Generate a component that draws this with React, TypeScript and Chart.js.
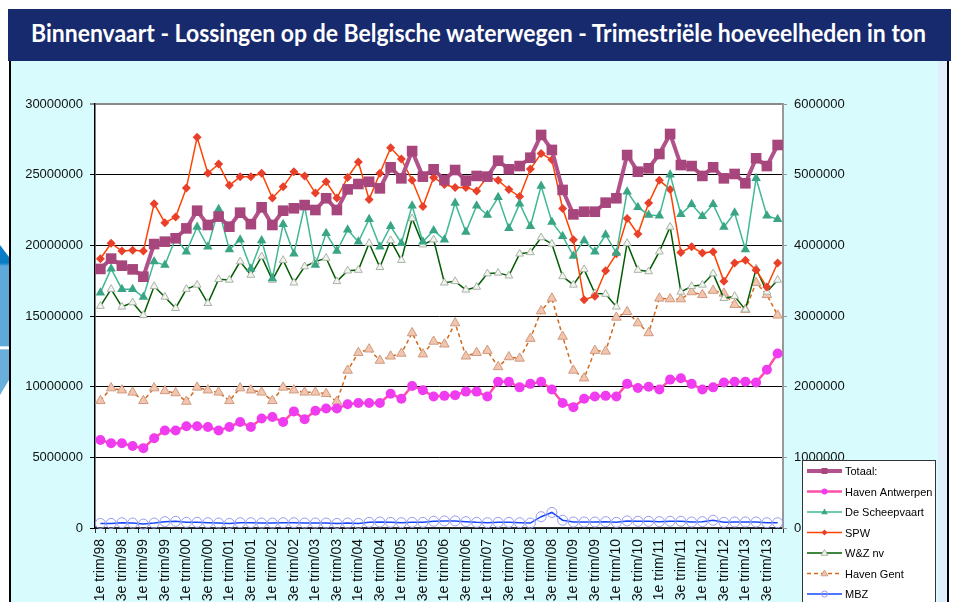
import React, { useEffect, useLayoutEffect, useRef } from "react";
import { Chart, registerables } from "chart.js";
Chart.register(...registerables);

const categories = [
  "1e trim/98", "2e trim/98", "3e trim/98", "4e trim/98",
  "1e trim/99", "2e trim/99", "3e trim/99", "4e trim/99",
  "1e trim/00", "2e trim/00", "3e trim/00", "4e trim/00",
  "1e trim/01", "2e trim/01", "3e trim/01", "4e trim/01",
  "1e trim/02", "2e trim/02", "3e trim/02", "4e trim/02",
  "1e trim/03", "2e trim/03", "3e trim/03", "4e trim/03",
  "1e trim/04", "2e trim/04", "3e trim/04", "4e trim/04",
  "1e trim/05", "2e trim/05", "3e trim/05", "4e trim/05",
  "1e trim/06", "2e trim/06", "3e trim/06", "4e trim/06",
  "1e trim/07", "2e trim/07", "3e trim/07", "4e trim/07",
  "1e trim/08", "2e trim/08", "3e trim/08", "4e trim/08",
  "1e trim/09", "2e trim/09", "3e trim/09", "4e trim/09",
  "1e trim/10", "2e trim/10", "3e trim/10", "4e trim/10",
  "1e trim/11", "2e trim/11", "3e trim/11", "4e trim/11",
  "1e trim/12", "2e trim/12", "3e trim/12", "4e trim/12",
  "1e trim/13", "2e trim/13", "3e trim/13", "4e trim/13",
];

// Left axis (ton)
const totaal = [
  18330000, 19060000, 18560000, 18300000, 17780000, 20090000, 20260000, 20500000,
  21200000, 22450000, 21440000, 22030000, 21320000, 22310000, 21500000, 22690000,
  21440000, 22450000, 22620000, 22850000, 22500000, 23330000, 22500000, 23960000,
  24340000, 24500000, 24030000, 25520000, 24740000, 26670000, 24860000, 25380000,
  24620000, 25330000, 24580000, 24910000, 24860000, 25990000, 25380000, 25610000,
  26200000, 27810000, 26750000, 23920000, 22190000, 22380000, 22380000, 23020000,
  23330000, 26390000, 25210000, 25450000, 26460000, 27880000, 25680000, 25610000,
  24910000, 25520000, 24740000, 25050000, 24390000, 26160000, 25610000, 27100000,
];

// Right axis (ton)
const havenAntwerpen = [
  1245000, 1200000, 1200000, 1160000, 1130000, 1270000, 1380000, 1380000,
  1440000, 1440000, 1430000, 1380000, 1430000, 1500000, 1430000, 1550000,
  1570000, 1500000, 1650000, 1540000, 1660000, 1690000, 1690000, 1750000,
  1770000, 1770000, 1770000, 1900000, 1830000, 2010000, 1950000, 1860000,
  1870000, 1880000, 1930000, 1930000, 1860000, 2070000, 2070000, 1990000,
  2040000, 2070000, 1960000, 1770000, 1710000, 1830000, 1860000, 1870000,
  1860000, 2040000, 1980000, 2000000, 1960000, 2100000, 2120000, 2040000,
  1960000, 1990000, 2060000, 2070000, 2070000, 2060000, 2240000, 2470000,
];

const deScheepvaart = [
  3330000, 3670000, 3380000, 3380000, 3270000, 3770000, 3720000, 4100000,
  3910000, 4260000, 3980000, 4510000, 3940000, 4080000, 3670000, 4070000,
  3530000, 4300000, 3880000, 4560000, 3720000, 4170000, 3920000, 4220000,
  4050000, 4370000, 3980000, 4270000, 4030000, 4560000, 4050000, 4210000,
  4080000, 4600000, 4190000, 4560000, 4430000, 4680000, 4240000, 4590000,
  4270000, 4840000, 4330000, 4130000, 3850000, 4070000, 3910000, 4150000,
  3890000, 4760000, 4540000, 4430000, 4420000, 5000000, 4440000, 4580000,
  4410000, 4580000, 4260000, 4460000, 3940000, 4950000, 4420000, 4370000,
];

const spw = [
  3810000, 4030000, 3920000, 3930000, 3920000, 4590000, 4320000, 4400000,
  4810000, 5530000, 5020000, 5150000, 4850000, 4970000, 4970000, 5020000,
  4670000, 4830000, 5040000, 4980000, 4740000, 4900000, 4670000, 4960000,
  5180000, 4650000, 5020000, 5380000, 5220000, 4920000, 4550000, 4960000,
  4860000, 4820000, 4820000, 4770000, 4970000, 4920000, 4790000, 4690000,
  5080000, 5300000, 5210000, 4520000, 4080000, 3230000, 3280000, 3640000,
  3880000, 4380000, 4160000, 4600000, 4920000, 4790000, 3900000, 3980000,
  3890000, 3910000, 3490000, 3750000, 3790000, 3650000, 3410000, 3750000,
];

const wzNv = [
  3140000, 3380000, 3130000, 3190000, 3010000, 3420000, 3270000, 3110000,
  3380000, 3440000, 3180000, 3520000, 3510000, 3770000, 3580000, 3840000,
  3510000, 3790000, 3470000, 3700000, 3770000, 3820000, 3490000, 3640000,
  3650000, 4030000, 3690000, 4070000, 3790000, 4380000, 4010000, 4080000,
  3470000, 3490000, 3370000, 3410000, 3600000, 3610000, 3570000, 3880000,
  3900000, 4110000, 4020000, 3560000, 3440000, 3660000, 3320000, 3310000,
  3130000, 4030000, 3650000, 3630000, 3910000, 4260000, 3340000, 3420000,
  3440000, 3600000, 3250000, 3280000, 3090000, 3670000, 3340000, 3510000,
];

const havenGent = [
  1800000, 1980000, 1950000, 1920000, 1800000, 1980000, 1940000, 1910000,
  1790000, 1990000, 1950000, 1920000, 1800000, 1980000, 1950000, 1920000,
  1800000, 1990000, 1950000, 1920000, 1920000, 1900000, 1790000, 2230000,
  2480000, 2530000, 2370000, 2430000, 2470000, 2760000, 2460000, 2640000,
  2600000, 2900000, 2430000, 2480000, 2510000, 2280000, 2420000, 2400000,
  2680000, 3070000, 3250000, 2710000, 2230000, 2120000, 2510000, 2500000,
  2980000, 3060000, 2900000, 2760000, 3250000, 3240000, 3240000, 3340000,
  3300000, 3360000, 3320000, 3160000, 3090000, 3470000, 3300000, 3010000,
];

const mbz = [
  65000, 65000, 75000, 70000, 55000, 70000, 90000, 95000,
  80000, 80000, 75000, 70000, 65000, 75000, 75000, 70000,
  70000, 75000, 75000, 70000, 70000, 70000, 65000, 70000,
  65000, 80000, 85000, 80000, 75000, 80000, 80000, 95000,
  100000, 100000, 90000, 80000, 75000, 80000, 80000, 75000,
  70000, 160000, 220000, 110000, 85000, 85000, 85000, 90000,
  80000, 100000, 95000, 95000, 90000, 95000, 95000, 85000,
  90000, 110000, 80000, 85000, 85000, 85000, 75000, 75000,
];

const leftTicks = [0, 5000000, 10000000, 15000000, 20000000, 25000000, 30000000];
const rightTicks = [0, 1000000, 2000000, 3000000, 4000000, 5000000, 6000000];

const FONT = '"Liberation Sans", Arial, Helvetica, sans-serif';

function drawMarker(ctx: CanvasRenderingContext2D, style: string, x: number, y: number, r: number, fill: string, stroke: string, lw: number) {
  ctx.save();
  ctx.fillStyle = fill;
  ctx.strokeStyle = stroke;
  ctx.lineWidth = lw;
  ctx.setLineDash([]);
  ctx.beginPath();
  if (style === "rect") {
    ctx.rect(x - r, y - r, 2 * r, 2 * r);
  } else if (style === "circle") {
    ctx.arc(x, y, r, 0, Math.PI * 2);
  } else if (style === "triangle") {
    ctx.moveTo(x, y - r);
    ctx.lineTo(x + r * 0.95, y + r * 0.65);
    ctx.lineTo(x - r * 0.95, y + r * 0.65);
    ctx.closePath();
  } else if (style === "rectRot") {
    ctx.moveTo(x, y - r);
    ctx.lineTo(x + r, y);
    ctx.lineTo(x, y + r);
    ctx.lineTo(x - r, y);
    ctx.closePath();
  }
  ctx.fill();
  if (lw > 0) ctx.stroke();
  ctx.restore();
}

const plotBg = {
  id: "plotBg",
  beforeDraw(chart: any) {
    const { ctx, chartArea: a } = chart;
    ctx.save();
    ctx.fillStyle = "#ffffff";
    ctx.fillRect(a.left, a.top, a.right - a.left, a.bottom - a.top);
    ctx.restore();
  },
};

const legendMarkers = [
  { r: 3, lw: 0 },
  { r: 3, lw: 0 },
  { r: 3.5, lw: 0 },
  { r: 3, lw: 0 },
  { r: 3.5, lw: 1 },
  { r: 3.5, lw: 1 },
  { r: 3, lw: 1 },
];

const customLegend = {
  id: "customLegend",
  afterDraw(chart: any) {
    const ctx: CanvasRenderingContext2D = chart.ctx;
    const x0 = 791, y0 = 399, w = 133, h = 200;
    ctx.save();
    ctx.fillStyle = "#ffffff";
    ctx.fillRect(x0, y0, w, h);
    ctx.strokeStyle = "#333333";
    ctx.lineWidth = 1;
    ctx.strokeRect(x0 + 0.5, y0 + 0.5, w, h);
    chart.data.datasets.forEach((ds: any, i: number) => {
      const y = 410 + i * 20.5;
      ctx.strokeStyle = ds.borderColor;
      ctx.lineWidth = ds.borderWidth;
      ctx.setLineDash(ds.borderDash || []);
      ctx.beginPath();
      ctx.moveTo(796, y);
      ctx.lineTo(831, y);
      ctx.stroke();
      ctx.setLineDash([]);
      const m = legendMarkers[i];
      drawMarker(ctx, ds.pointStyle, 813.5, y, m.r, ds.pointBackgroundColor, ds.pointBorderColor, m.lw);
      ctx.fillStyle = "#000000";
      ctx.font = `11px ${FONT}`;
      ctx.textBaseline = "middle";
      ctx.textAlign = "left";
      ctx.fillText(ds.label, 834, y + 1);
    });
    ctx.restore();
  },
};

function TitleBar() {
  const ref = useRef<HTMLSpanElement>(null);
  useLayoutEffect(() => {
    const el = ref.current;
    if (!el) return;
    el.style.transform = "none";
    const w = el.getBoundingClientRect().width;
    el.style.transform = `scaleX(${895 / w})`;
  }, []);
  return (
    <div style={{ position: "absolute", left: 8, top: 9, width: 943, height: 52, background: "#182a6e" }}>
      <span
        ref={ref}
        style={{
          position: "absolute",
          left: 23,
          top: -3,
          lineHeight: "52px",
          whiteSpace: "nowrap",
          color: "#ffffff",
          fontFamily: "Lato, 'Open Sans', sans-serif",
          fontWeight: 700,
          fontSize: 25,
          transformOrigin: "left center",
        }}
      >
        Binnenvaart - Lossingen op de Belgische waterwegen - Trimestriële hoeveelheden in ton
      </span>
    </div>
  );
}

function ChartCanvas() {
  const canvasRef = useRef<HTMLCanvasElement>(null);
  useEffect(() => {
    const canvas = canvasRef.current;
    if (!canvas) return;
    Chart.defaults.font.family = FONT;
    const chart = new Chart(canvas, {
      type: "line",
      data: {
        labels: categories,
        datasets: [
          {
            label: "Totaal:",
            data: totaal,
            yAxisID: "yL",
            borderColor: "#b2528b",
            borderWidth: 4,
            pointStyle: "rect",
            pointRadius: 7.5,
            pointBackgroundColor: "#a6467c",
            pointBorderColor: "#a6467c",
            pointBorderWidth: 0,
            tension: 0,
            clip: false,
          },
          {
            label: "Haven Antwerpen",
            data: havenAntwerpen,
            yAxisID: "yR",
            borderColor: "#ff4fa8",
            borderWidth: 2.5,
            pointStyle: "circle",
            pointRadius: 5,
            pointBackgroundColor: "#f03cf0",
            pointBorderColor: "#f03cf0",
            pointBorderWidth: 0,
            tension: 0,
            clip: false,
          },
          {
            label: "De Scheepvaart",
            data: deScheepvaart,
            yAxisID: "yR",
            borderColor: "#3fb896",
            borderWidth: 1.5,
            pointStyle: "triangle",
            pointRadius: 5.5,
            pointBackgroundColor: "#3aa585",
            pointBorderColor: "#3aa585",
            pointBorderWidth: 0,
            tension: 0,
            clip: false,
          },
          {
            label: "SPW",
            data: spw,
            yAxisID: "yR",
            borderColor: "#ff4200",
            borderWidth: 1.5,
            pointStyle: "rectRot",
            pointRadius: 4.5,
            pointBackgroundColor: "#e8402a",
            pointBorderColor: "#e8402a",
            pointBorderWidth: 0,
            tension: 0,
            clip: false,
          },
          {
            label: "W&Z nv",
            data: wzNv,
            yAxisID: "yR",
            borderColor: "#005c00",
            borderWidth: 1.5,
            pointStyle: "triangle",
            pointRadius: 4.5,
            pointBackgroundColor: "#f4f4ee",
            pointBorderColor: "#a8b4a8",
            pointBorderWidth: 1,
            tension: 0,
            clip: false,
          },
          {
            label: "Haven Gent",
            data: havenGent,
            yAxisID: "yR",
            borderColor: "#d06a1c",
            borderWidth: 1.5,
            borderDash: [4, 3],
            pointStyle: "triangle",
            pointRadius: 5.5,
            pointBackgroundColor: "#f2c6ae",
            pointBorderColor: "#d09a80",
            pointBorderWidth: 1,
            tension: 0,
            clip: false,
          },
          {
            label: "MBZ",
            data: mbz,
            yAxisID: "yR",
            borderColor: "#1448ff",
            borderWidth: 1.5,
            pointStyle: "circle",
            pointRadius: 5,
            pointBackgroundColor: "rgba(255,255,255,0)",
            pointBorderColor: "#9a9af0",
            pointBorderWidth: 1,
            tension: 0,
            clip: false,
          },
        ],
      },
      options: {
        responsive: false,
        animation: false,
        devicePixelRatio: 1,
        layout: { padding: { top: 43, left: 0, right: 0, bottom: 0 } },
        plugins: { legend: { display: false }, tooltip: { enabled: false } },
        scales: {
          x: {
            type: "category",
            offset: true,
            grid: {
              offset: true,
              drawOnChartArea: false,
              tickLength: 5,
              color: "#333333",
            },
            border: { color: "#333333", width: 1.5 },
            ticks: {
              autoSkip: false,
              maxRotation: 90,
              minRotation: 90,
              padding: 6,
              color: "#111111",
              font: { size: 14, family: FONT },
              callback: (_v: any, i: number) => (i % 2 === 0 ? categories[i] : ""),
            },
            afterFit: (s: any) => {
              s.height = 74;
            },
          },
          yL: {
            position: "left",
            min: 0,
            max: 30000000,
            afterBuildTicks: (s: any) => {
              s.ticks = leftTicks.map((v) => ({ value: v }));
            },
            grid: {
              color: (c: any) => (c.tick && c.tick.value === 30000000 ? "#8a8a8a" : "#000000"),
              lineWidth: (c: any) => (c.tick && c.tick.value === 30000000 ? 2 : 1),
              tickLength: 5,
            },
            border: { color: "#000000", width: 1.5 },
            ticks: {
              padding: 7,
              color: "#111111",
              font: { size: 13, family: FONT },
              callback: (v: any) => String(v),
            },
            afterFit: (s: any) => {
              s.width = 84;
            },
          },
          yR: {
            position: "right",
            min: 0,
            max: 6000000,
            afterBuildTicks: (s: any) => {
              s.ticks = rightTicks.map((v) => ({ value: v }));
            },
            grid: { drawOnChartArea: false, color: "#999999", tickLength: 4 },
            border: { color: "#999999", width: 2 },
            ticks: {
              padding: 7,
              color: "#111111",
              font: { size: 13, family: FONT },
              callback: (v: any) => String(v),
            },
            afterFit: (s: any) => {
              s.width = 155;
            },
          },
        },
      },
      plugins: [plotBg, customLegend],
    } as any);
    return () => chart.destroy();
  }, []);
  return <canvas ref={canvasRef} width={927} height={541} style={{ display: "block", width: 927, height: 541 }} />;
}

export default function App() {
  return (
    <div style={{ position: "fixed", left: 0, top: 0, width: 957, height: 602, overflow: "hidden", background: "#ffffff" }}>
      <div
        style={{
          position: "absolute",
          left: 0,
          top: 245,
          width: 9,
          height: 150,
          background: "linear-gradient(to bottom, #0b7dc6 0%, #0b7dc6 12%, #5ea9d9 14%, #5ea9d9 67%, #ffffff 68%, #ffffff 69%, #6aaedb 70%, #6aaedb 100%)",
          clipPath: "polygon(0 0, 100% 8%, 100% 90%, 0 100%)",
        }}
      />
      <TitleBar />
      <div style={{ position: "absolute", left: 9, top: 61, width: 2, height: 541, background: "#000000" }} />
      <div style={{ position: "absolute", left: 11, top: 61, width: 927, height: 541, background: "#d8fcfe" }} />
      <div style={{ position: "absolute", left: 938, top: 61, width: 9, height: 541, background: "#dfeefa" }} />
      <div style={{ position: "absolute", left: 947, top: 61, width: 2, height: 541, background: "#000000" }} />
      <div style={{ position: "absolute", left: 11, top: 61 }}>
        <ChartCanvas />
      </div>
    </div>
  );
}
